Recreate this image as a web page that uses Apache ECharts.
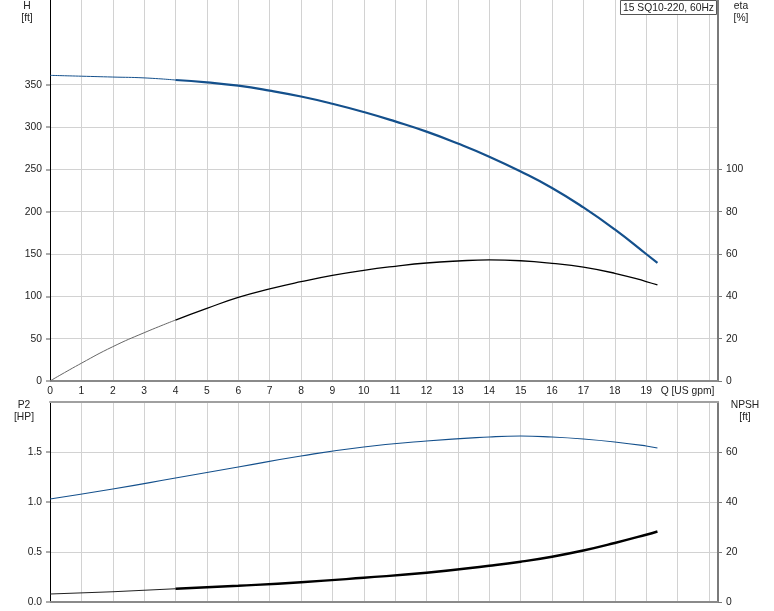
<!DOCTYPE html>
<html><head><meta charset="utf-8">
<script src="https://cdn.jsdelivr.net/npm/echarts@6/dist/echarts.min.js"></script>
<style>html,body{margin:0;padding:0;background:#fff}#c{width:774px;height:611px}</style>
</head><body><div id="c"></div>
<script>
// ---- data ----
const title = '15 SQ10-220, 60Hz';
const qH   = [0,1,2,3,4,5,6,7,8,9,10,11,12,13,14,15,16,17,18,19,19.36];
const head = [361,360,359,358,355.5,352.7,348.8,343,336,327.5,317.7,306.6,294.5,280.5,265,247.5,228,205,179,150,139.5];
const qEta = [0,1,2,3,4,5,6,7,8,9,10,11,12,13,14,15,16,17,18,19,19.36];
const eta  = [0,8.4,16.2,22.8,28.8,34.3,39.5,43.5,46.9,49.9,52.3,54.2,55.75,56.7,57.2,56.8,55.6,53.8,50.9,47.0,45.4];
const qP   = [0,2,4,6,8,10,12,14,15,16,17,18,19,19.36];
const p2   = [1.03,1.13,1.24,1.35,1.46,1.55,1.61,1.65,1.66,1.65,1.63,1.60,1.56,1.54];
const npsh = [3.2,4.1,5.3,6.5,7.9,9.7,11.7,14.5,16.1,18.1,20.6,23.6,26.9,28.2];
const xTicks = [0,1,2,3,4,5,6,7,8,9,10,11,12,13,14,15,16,17,18,19,20];
const hTicks = [0,50,100,150,200,250,300,350];
const etaTicks = [0,20,40,60,80,100];
const p2Ticks = [0,0.5,1,1.5];
const npshTicks = [0,20,40,60];
const splitQ = 4;

function pairs(xs, ys, lo, hi){
  const out=[]; for(let i=0;i<xs.length;i++){ if(xs[i]>=lo && xs[i]<=hi) out.push([xs[i],ys[i]]); } return out;
}
const FONT = 'Liberation Sans, Arial, sans-serif';
const FS = 10.3;
const TXT = '#222';
const GRIDC = '#d2d2d2';
const BLUE = '#14508c';
const xMax = 21.29;

const chart = echarts.init(document.getElementById('c'));
const lab = {fontFamily: FONT, fontSize: FS, color: TXT};
function unitText(x, y, t){
  return {type: 'text', x: x, y: y, style: {text: t, fontFamily: FONT, fontSize: FS, lineHeight: 12, fill: TXT, align: 'center', verticalAlign: 'middle'}};
}
chart.setOption({
  animation: false,
  title: {text: title, right: 57, top: 0, padding: [3,3,2,3], borderColor: '#555', borderWidth: 1,
    backgroundColor: '#fff', textStyle: {fontFamily: FONT, fontSize: FS, fontWeight: 'normal', color: TXT}},
  grid: [
    {left: 50, right: 56, top: 0, height: 381},
    {left: 50, right: 56, top: 402, height: 200}
  ],
  xAxis: [
    {gridIndex: 0, type: 'value', min: 0, max: xMax, interval: 1,
     axisLine: {show: true, onZero: false, lineStyle: {color: '#8a8a8a', width: 2}},
     axisTick: {show: false},
     axisLabel: Object.assign({}, lab, {margin: 5, customValues: xTicks,
        formatter: v => v === 20 ? '{q|Q [US gpm]}' : String(v),
        rich: {q: {fontFamily: FONT, fontSize: FS, color: TXT, padding: [0,0,0,20]}}}),
     splitLine: {show: true, lineStyle: {color: GRIDC, width: 1}}},
    {gridIndex: 1, type: 'value', min: 0, max: xMax, interval: 1, position: 'bottom',
     axisLine: {show: true, onZero: false, lineStyle: {color: '#8a8a8a', width: 2}},
     axisTick: {show: false}, axisLabel: {show: false},
     splitLine: {show: true, lineStyle: {color: GRIDC, width: 1}}},
    {gridIndex: 1, type: 'value', min: 0, max: xMax, interval: 1, position: 'top',
     axisLine: {show: true, onZero: false, lineStyle: {color: '#a0a0a0', width: 2}},
     axisTick: {show: false}, axisLabel: {show: false}, splitLine: {show: false}}
  ],
  yAxis: [
    {gridIndex: 0, type: 'value', min: 0, max: 450, interval: 50, position: 'left',
     axisLine: {show: true, onZero: false, lineStyle: {color: '#000', width: 1}},
     axisTick: {show: true, length: 4, customValues: hTicks, lineStyle: {color: '#aaa', width: 2}},
     axisLabel: Object.assign({}, lab, {margin: 8, customValues: hTicks}),
     splitLine: {show: true, lineStyle: {color: GRIDC, width: 1}}},
    {gridIndex: 0, type: 'value', min: 0, max: 180, interval: 20, position: 'right',
     axisLine: {show: true, onZero: false, lineStyle: {color: '#7a7a7a', width: 2}},
     axisTick: {show: true, length: 4, customValues: etaTicks, lineStyle: {color: '#7a7a7a', width: 1}},
     axisLabel: Object.assign({}, lab, {margin: 8, customValues: etaTicks}),
     splitLine: {show: false}},
    {gridIndex: 1, type: 'value', min: 0, max: 2, interval: 0.5, position: 'left',
     axisLine: {show: true, onZero: false, lineStyle: {color: '#000', width: 1}},
     axisTick: {show: true, length: 4, customValues: p2Ticks, lineStyle: {color: '#aaa', width: 2}},
     axisLabel: Object.assign({}, lab, {margin: 8, customValues: p2Ticks, formatter: v => v.toFixed(1)}),
     splitLine: {show: true, lineStyle: {color: GRIDC, width: 1}}},
    {gridIndex: 1, type: 'value', min: 0, max: 80, interval: 20, position: 'right',
     axisLine: {show: true, onZero: false, lineStyle: {color: '#7a7a7a', width: 2}},
     axisTick: {show: true, length: 4, customValues: npshTicks, lineStyle: {color: '#7a7a7a', width: 1}},
     axisLabel: Object.assign({}, lab, {margin: 8, customValues: npshTicks}),
     splitLine: {show: false}}
  ],
  graphic: [
    unitText(27, 12, 'H\n[ft]'),
    unitText(741, 12, 'eta\n[%]'),
    unitText(24, 411, 'P2\n[HP]'),
    unitText(745, 411, 'NPSH\n[ft]')
  ],
  series: [
    {type: 'line', xAxisIndex: 0, yAxisIndex: 0, data: pairs(qH, head, 0, splitQ), smooth: true, showSymbol: false,
     lineStyle: {color: BLUE, width: 1}},
    {type: 'line', xAxisIndex: 0, yAxisIndex: 0, data: pairs(qH, head, splitQ, 99), smooth: true, showSymbol: false,
     lineStyle: {color: BLUE, width: 2.2}},
    {type: 'line', xAxisIndex: 0, yAxisIndex: 1, data: pairs(qEta, eta, 0, splitQ), smooth: true, showSymbol: false,
     lineStyle: {color: '#666', width: 1}},
    {type: 'line', xAxisIndex: 0, yAxisIndex: 1, data: pairs(qEta, eta, splitQ, 99), smooth: true, showSymbol: false,
     lineStyle: {color: '#000', width: 1.3}},
    {type: 'line', xAxisIndex: 1, yAxisIndex: 2, data: pairs(qP, p2, 0, 99), smooth: true, showSymbol: false,
     lineStyle: {color: BLUE, width: 1.2}},
    {type: 'line', xAxisIndex: 1, yAxisIndex: 3, data: pairs(qP, npsh, 0, splitQ), smooth: true, showSymbol: false,
     lineStyle: {color: '#222', width: 1.2}},
    {type: 'line', xAxisIndex: 1, yAxisIndex: 3, data: pairs(qP, npsh, splitQ, 99), smooth: true, showSymbol: false,
     lineStyle: {color: '#000', width: 2.4}}
  ]
});
</script>
</body></html>
